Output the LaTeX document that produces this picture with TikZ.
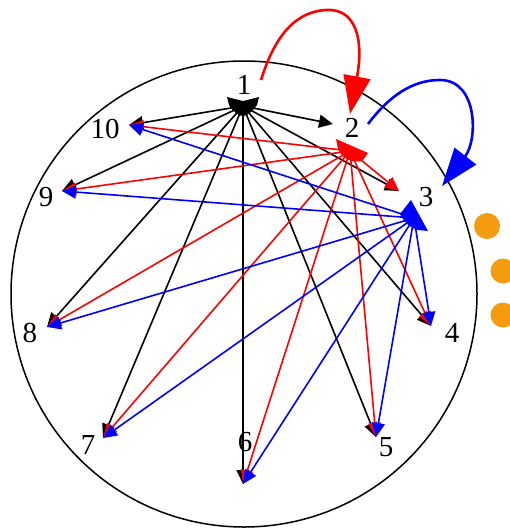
\documentclass[tikz,border=0pt]{standalone}
\usepackage{fontspec}
\setmainfont{Liberation Serif}
\usetikzlibrary{arrows.meta}
\definecolor{dotorange}{RGB}{245,155,15}
\tikzset{
  edge/.style={line width=1.6pt,-{Triangle[length=14pt,width=13pt]}},
  loopedge/.style={line width=2.6pt,-{Triangle[length=38pt,width=27pt]}},
  lbl/.style={font=\fontsize{29}{29}\selectfont,inner sep=0pt},
  blob/.style={draw=none}
}
\begin{document}
\begin{tikzpicture}[x=1pt,y=-1pt]
\useasboundingbox (0,0) rectangle (509,530);
\fill[white] (0,0) rectangle (509,530);
\draw[line width=1.5pt] (244,294) circle[radius=233];
% orange dots
\fill[dotorange] (487,226) circle[radius=13];
\fill[dotorange] (503,271) circle[radius=12.5];
\fill[dotorange] (503,315) circle[radius=12.5];
% labels
\node[lbl] (l1) at (244,85) {1};
\node[lbl] (l2) at (352,128) {2};
\node[lbl] (l3) at (426,197) {3};
\node[lbl] (l4) at (452,333) {4};
\node[lbl] (l5) at (386,447) {5};
\node[lbl] (l6) at (245,442) {6};
\node[lbl] (l7) at (88,445) {7};
\node[lbl] (l8) at (30,333) {8};
\node[lbl] (l9) at (46,197) {9};
\node[lbl] (l10) at (105,129) {10};
% sources
\coordinate (s1) at (243,106);
\coordinate (s2) at (350,151);
\coordinate (s3) at (414,218);
% targets
\coordinate (t2) at (333,124);
\coordinate (t3) at (399,191);
\coordinate (t4) at (431,326);
\coordinate (t5) at (376,437);
\coordinate (t6) at (243,484);
\coordinate (t7) at (103,438);
\coordinate (t8) at (47,327);
\coordinate (t9) at (62,191);
\coordinate (t10) at (129,125);
% black edges
\foreach \t in {2,3,4,5,6,7,8,9,10} \draw[edge,black] (s1) -- (t\t);
% red edges
\foreach \t in {3,4,5,6,7,8,9,10} \draw[edge,red] (s2) -- (t\t);
% blue edges
\foreach \t in {4,5,6,7,8,9,10} \draw[edge,blue] (s3) -- (t\t);
% blobs
\fill[black] (227,97) -- (243,101) -- (259,97) -- (257,105) .. controls (252,112) and (247,116) .. (243,116) .. controls (239,116) and (233,112) .. (229,105) -- cycle;
\fill[red] (336,139) -- (368,153) -- (363,160) .. controls (356,163) and (348,162) .. (341,154) -- (338,149) -- cycle;
\fill[blue] (411,200) -- (428,231) -- (418,230) .. controls (410,228) and (404,222) .. (400,214) -- cycle;
% self loops
\coordinate (r0) at (261,80);
\coordinate (r1) at (326,10);
\coordinate (r2) at (350,114);
\draw[loopedge,red] (r0) .. controls (272,45) and (290,12) .. (r1) .. controls (356,8) and (364,40) .. (r2);
\coordinate (b0) at (368,124);
\coordinate (b1) at (440,80);
\coordinate (b2) at (442,186);
\draw[loopedge,blue] (b0) .. controls (390,95) and (413,80) .. (b1) .. controls (478,80) and (478,140) .. (b2);
\end{tikzpicture}
\end{document}
